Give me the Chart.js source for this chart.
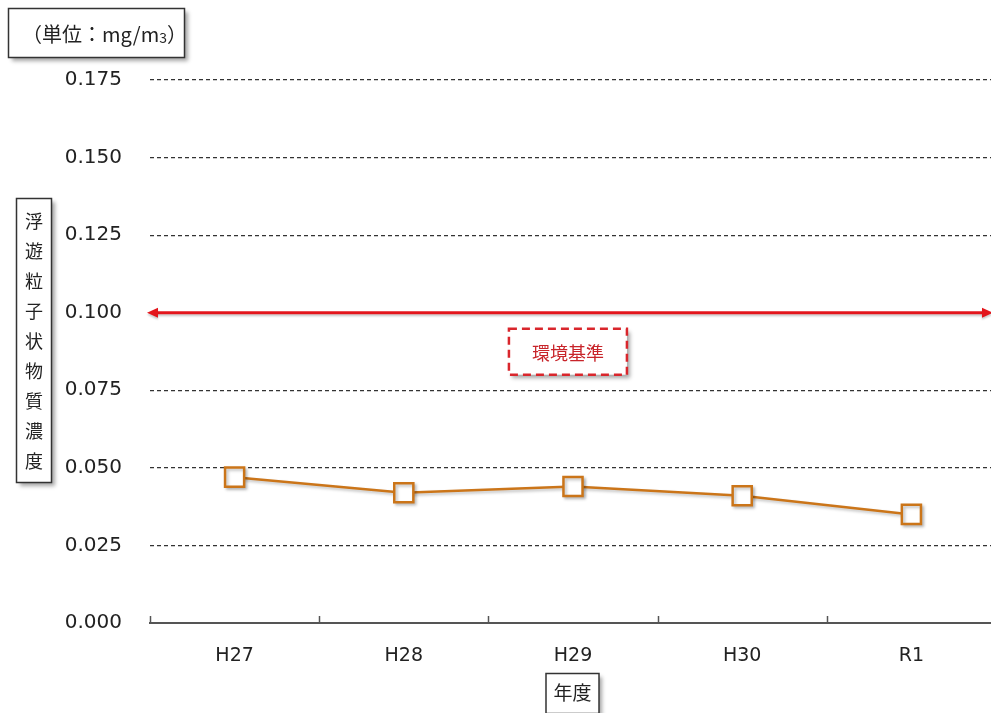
<!DOCTYPE html>
<html>
<head>
<meta charset="utf-8">
<script src="https://cdn.jsdelivr.net/npm/chart.js@4/dist/chart.umd.min.js"></script>
<style>
  html, body { margin: 0; padding: 0; background: #fff; overflow: hidden; }
  #wrap { position: relative; width: 1012px; height: 713px; }
</style>
</head>
<body>
<div id="wrap"><canvas id="spmChart"></canvas></div>
<script>
// data
const years = ['H27', 'H28', 'H29', 'H30', 'R1'];
const spmValues = [0.047, 0.042, 0.044, 0.041, 0.035];
const standardValue = 0.100;
const yTicks = [0, 0.025, 0.05, 0.075, 0.1, 0.125, 0.15, 0.175];
const unitLabel = '（単位：mg/m';
const yTitle = '浮遊粒子状物質濃度';
const xTitle = '年度';
const standardLabel = '環境基準';

const jpFont = '"Noto Sans CJK JP", "Noto Sans", sans-serif';
const numFont = 'DejaVu Sans';

function shadowOn(ctx) {
    ctx.shadowColor = 'rgba(0,0,0,0.35)';
    ctx.shadowBlur = 4;
    ctx.shadowOffsetX = 3;
    ctx.shadowOffsetY = 3;
}
function shadowOff(ctx) {
    ctx.shadowColor = 'transparent';
    ctx.shadowBlur = 0;
    ctx.shadowOffsetX = 0;
    ctx.shadowOffsetY = 0;
}

// upward tick marks on the category axis
const axisTicks = {
    id: 'axisTicks',
    afterDraw(chart) {
        const ctx = chart.ctx;
        const a = chart.chartArea;
        const step = (a.right - a.left) / years.length;
        ctx.save();
        ctx.strokeStyle = '#555';
        ctx.lineWidth = 1.5;
        for (let i = 0; i <= years.length; i++) {
            const px = Math.round(a.left + step * i) + 0.5;
            ctx.beginPath();
            ctx.moveTo(px, a.bottom);
            ctx.lineTo(px, a.bottom - 7);
            ctx.stroke();
        }
        ctx.restore();
    }
};

// environmental standard line with arrows + label
const standardLine = {
    id: 'standardLine',
    beforeDatasetsDraw(chart) {
        const ctx = chart.ctx;
        const a = chart.chartArea;
        const y = chart.scales.y.getPixelForValue(standardValue);
        const left = a.left - 3;
        const right = a.right - 3;
        ctx.save();
        ctx.shadowColor = 'rgba(0,0,0,0.2)';
        ctx.shadowOffsetY = 2;
        ctx.shadowBlur = 2;
        ctx.strokeStyle = '#e3161c';
        ctx.fillStyle = '#e3161c';
        ctx.lineWidth = 3;
        ctx.beginPath();
        ctx.moveTo(left + 8, y);
        ctx.lineTo(right - 8, y);
        ctx.stroke();
        ctx.beginPath();
        ctx.moveTo(left, y);
        ctx.lineTo(left + 11, y - 5);
        ctx.lineTo(left + 11, y + 5);
        ctx.closePath();
        ctx.fill();
        ctx.beginPath();
        ctx.moveTo(right, y);
        ctx.lineTo(right - 11, y - 5);
        ctx.lineTo(right - 11, y + 5);
        ctx.closePath();
        ctx.fill();
        ctx.restore();

        // label box
        const cx = a.left + (a.right - a.left) * 0.494;
        const bw = 118, bh = 46;
        const by = y + 16;
        ctx.save();
        shadowOn(ctx);
        ctx.fillStyle = '#fff';
        ctx.fillRect(cx - bw / 2, by, bw, bh);
        shadowOff(ctx);
        ctx.setLineDash([8, 5]);
        ctx.strokeStyle = '#d9262c';
        ctx.lineWidth = 2.5;
        ctx.strokeRect(cx - bw / 2, by, bw, bh);
        ctx.setLineDash([]);
        ctx.fillStyle = '#c8242a';
        ctx.font = '18px ' + jpFont;
        ctx.textAlign = 'center';
        ctx.textBaseline = 'middle';
        ctx.fillText(standardLabel, cx, by + bh / 2 + 1);
        ctx.restore();
    }
};

// boxed titles: unit, y title (vertical), x title
const boxedTitles = {
    id: 'boxedTitles',
    afterDraw(chart) {
        const ctx = chart.ctx;
        ctx.save();

        function box(x, y, w, h) {
            shadowOn(ctx);
            ctx.fillStyle = '#fff';
            ctx.fillRect(x, y, w, h);
            shadowOff(ctx);
            ctx.strokeStyle = '#333';
            ctx.lineWidth = 1.5;
            ctx.strokeRect(x, y, w, h);
            ctx.fillStyle = '#222';
        }

        // unit
        box(8.5, 8.5, 176, 49);
        ctx.font = '20px ' + jpFont;
        ctx.textBaseline = 'middle';
        ctx.textAlign = 'left';
        ctx.fillText(unitLabel, 22, 34);
        let w = ctx.measureText(unitLabel).width;
        ctx.font = '14px ' + jpFont;
        ctx.fillText('3', 22 + w, 38);
        let w3 = ctx.measureText('3').width;
        ctx.font = '20px ' + jpFont;
        ctx.fillText('）', 22 + w + w3, 34);

        // y title
        box(16.5, 198.5, 35, 284);
        ctx.textAlign = 'center';
        ctx.font = '18px ' + jpFont;
        Array.from(yTitle).forEach((c, i) => {
            ctx.fillText(c, 34, 221 + i * 30);
        });

        // x title
        const a = chart.chartArea;
        const cx = a.left + (a.right - a.left) * 0.5;
        box(cx - 27, 673.5, 53, 40);
        ctx.font = '19px ' + jpFont;
        ctx.fillText(xTitle, cx - 0.5, 693);

        ctx.restore();
    }
};

// soft shadow under markers
const markerShadow = {
    id: 'markerShadow',
    beforeDatasetDraw(chart) {
        const ctx = chart.ctx;
        ctx.save();
        ctx.shadowColor = 'rgba(0,0,0,0.25)';
        ctx.shadowBlur = 3;
        ctx.shadowOffsetX = 2;
        ctx.shadowOffsetY = 2;
    },
    afterDatasetDraw(chart) {
        chart.ctx.restore();
    }
};

new Chart(document.getElementById('spmChart'), {
    type: 'line',
    data: {
        labels: years,
        datasets: [{
            label: '浮遊粒子状物質',
            data: spmValues,
            borderColor: '#cb7519',
            borderWidth: 2.5,
            tension: 0,
            pointStyle: 'rect',
            pointRadius: 13.5,
            pointBorderWidth: 2.5,
            pointBackgroundColor: '#fff',
            pointBorderColor: '#cb7519'
        }]
    },
    options: {
        responsive: true,
        maintainAspectRatio: false,
        animation: false,
        layout: { padding: { top: 80, right: 0, bottom: 0, left: 0 } },
        plugins: {
            legend: { display: false },
            tooltip: { enabled: false }
        },
        scales: {
            y: {
                min: 0,
                max: 0.175,
                afterBuildTicks(scale) {
                    scale.ticks = yTicks.map(v => ({ value: v }));
                },
                afterFit(scale) { scale.width = 150; },
                ticks: {
                    padding: 28,
                    color: '#222',
                    font: { family: numFont, size: 20 },
                    callback: v => Number(v).toFixed(3)
                },
                grid: {
                    drawTicks: false,
                    color: ctx => ctx.tick && ctx.tick.value === 0 ? 'transparent' : '#333',
                    lineWidth: 1.2
                },
                border: { display: false, dash: [4, 3] }
            },
            x: {
                offset: true,
                afterFit(scale) { scale.height = 90; },
                ticks: {
                    padding: 22,
                    color: '#222',
                    font: { family: numFont, size: 19 },
                    maxRotation: 0
                },
                grid: { display: false, drawTicks: false },
                border: { display: true, color: '#555', width: 2 }
            }
        }
    },
    plugins: [standardLine, markerShadow, axisTicks, boxedTitles]
});
</script>
</body>
</html>
